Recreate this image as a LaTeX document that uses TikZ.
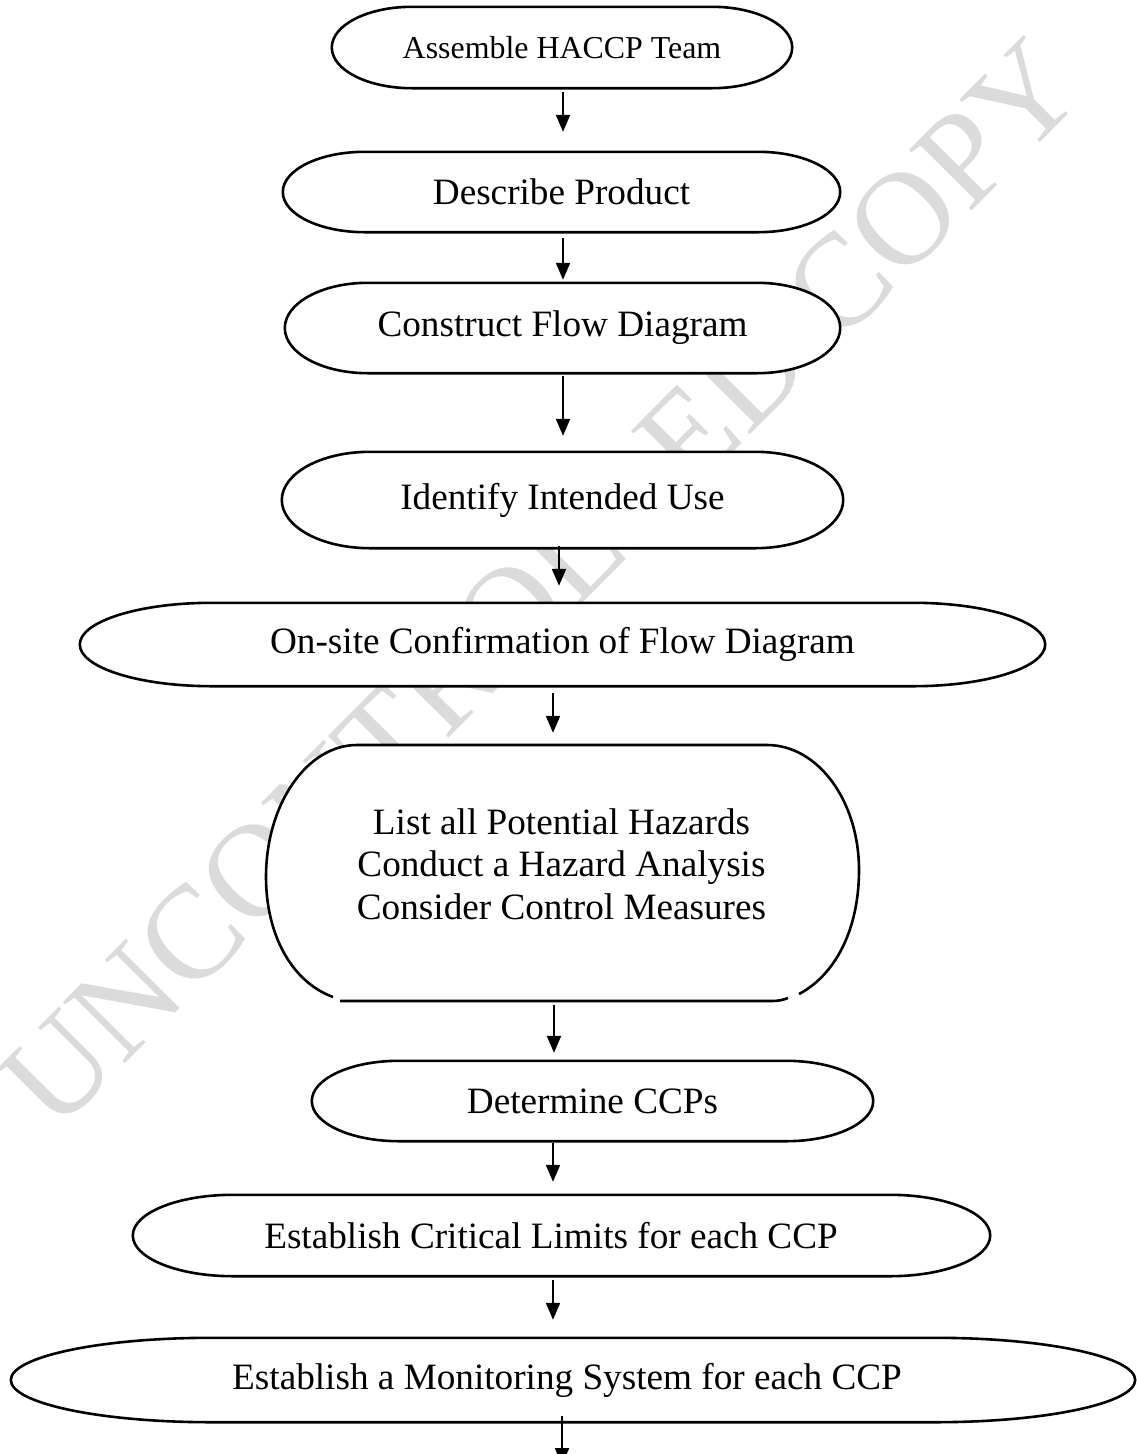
\documentclass[tikz,border=0pt]{standalone}
\usepackage{fontspec}
\setmainfont{Liberation Serif}
\usetikzlibrary{arrows.meta,calc,backgrounds}

\tikzset{
  term/.style={inner sep=0pt, font=\fontsize{37.2}{42.5}\selectfont},
  outline/.style={draw, line width=2.6pt, fill=white},
  flow/.style={line width=2pt, -{Triangle[width=14pt,length=17pt]}},
  stamp/.style={text=black!14, font=\fontsize{133}{133}\selectfont}
}

\begin{document}
\begin{tikzpicture}[x=1pt, y=1pt]
	\useasboundingbox (0,0) rectangle (1137,-1454);
	%\draw[help lines] (0,-1454) grid[step=100] (1137,0);
	\node[term, minimum width=460, minimum height=81, font=\fontsize{31.9}{38}\selectfont] (team) at (562,-47.5) {Assemble HACCP Team};
	\node[term, minimum width=557, minimum height=80] (product) at (561.5,-192) {Describe Product};
	\node[term, minimum width=555, minimum height=90] (construct) at (562.5,-328) {Construct Flow Diagram};
	\node[term, minimum width=561, minimum height=96] (use) at (562.5,-500) {Identify Intended Use};
	\node[term, minimum width=965, minimum height=83] (onsite) at (562.5,-644.5) {On-site Confirmation of Flow Diagram};
	\node[term, align=center, minimum width=595, minimum height=257] (hazards) at (561.5,-864) {List all Potential Hazards\\Conduct a Hazard Analysis\\Consider Control Measures};
	\node[term, minimum width=561, minimum height=80] (ccp) at (592.5,-1101) {Determine CCPs};
	\node[term, minimum width=857, minimum height=81] (limits) at (561.5,-1235.5) {Establish Critical Limits for each CCP\hspace*{21pt}};
	\node[term, minimum width=1124, minimum height=84] (monitor) at (573,-1380) {Establish a Monitoring System for each CCP\hspace*{12pt}};
	\coordinate (next) at (562,-1465);

	\begin{scope}[on background layer]
		\node[stamp, rotate=45.2] (watermark) at (541,-584) {UNCONTROLLED COPY};
		\foreach \nd/\rx in {team/80, product/82, construct/83, use/88, onsite/132, ccp/87, limits/100, monitor/200}
			\draw[outline] let \p1=(\nd.north east), \p2=(\nd.south west), \n1={(\y1-\y2)/2} in
				(\x2+\rx,\y1) -- (\x1-\rx,\y1) arc[start angle=90, end angle=-90, x radius=\rx*1pt, y radius=\n1]
				-- (\x2+\rx,\y2) arc[start angle=270, end angle=90, x radius=\rx*1pt, y radius=\n1] -- cycle;
		% hazards box, drawn by hand
		\draw[outline] (799,-994) .. controls (835,-975) and (859,-930) .. (859,-870)
			.. controls (859,-801) and (818,-745) .. (767,-745) -- (357,-745)
			.. controls (307,-745) and (266,-804) .. (266,-877)
			.. controls (266,-935) and (292,-982) .. (333,-997);
		\draw[line width=2.6pt] (340,-1001) -- (772,-1001) .. controls (778,-1001) and (783,-1000) .. (788,-998);
	\end{scope}

	\draw[flow, shorten <=4pt, shorten >=20pt] ([xshift=1pt]team.south) -- ([xshift=1pt]team.south |- product.north);
	\draw[flow, shorten <=6pt, shorten >=3pt] ([xshift=1.5pt]product.south) -- ([xshift=1.5pt]product.south |- construct.north);
	\draw[flow, shorten <=3pt, shorten >=16pt] ([xshift=0.5pt]construct.south) -- ([xshift=0.5pt]construct.south |- use.north);
	\draw[flow, shorten <=-2pt, shorten >=17pt] ([xshift=-3.5pt]use.south) -- ([xshift=-3.5pt]use.south |- onsite.north);
	\draw[flow, shorten <=7pt, shorten >=2.5pt] ([xshift=-9.5pt]onsite.south) -- ([xshift=-9.5pt]onsite.south |- hazards.north);
	\draw[flow, shorten <=12.5pt, shorten >=8pt] ([xshift=-7.5pt]hazards.south) -- ([xshift=-7.5pt]hazards.south |- ccp.north);
	\draw[flow, shorten <=2pt, shorten >=13pt] ([xshift=-39.5pt]ccp.south) -- ([xshift=-39.5pt]ccp.south |- limits.north);
	\draw[flow, shorten <=4pt, shorten >=18pt] ([xshift=-8.5pt]limits.south) -- ([xshift=-8.5pt]limits.south |- monitor.north);
	\draw[flow, shorten <=-6pt] ([xshift=-11pt]monitor.south) -- (next);
\end{tikzpicture}
\end{document}
